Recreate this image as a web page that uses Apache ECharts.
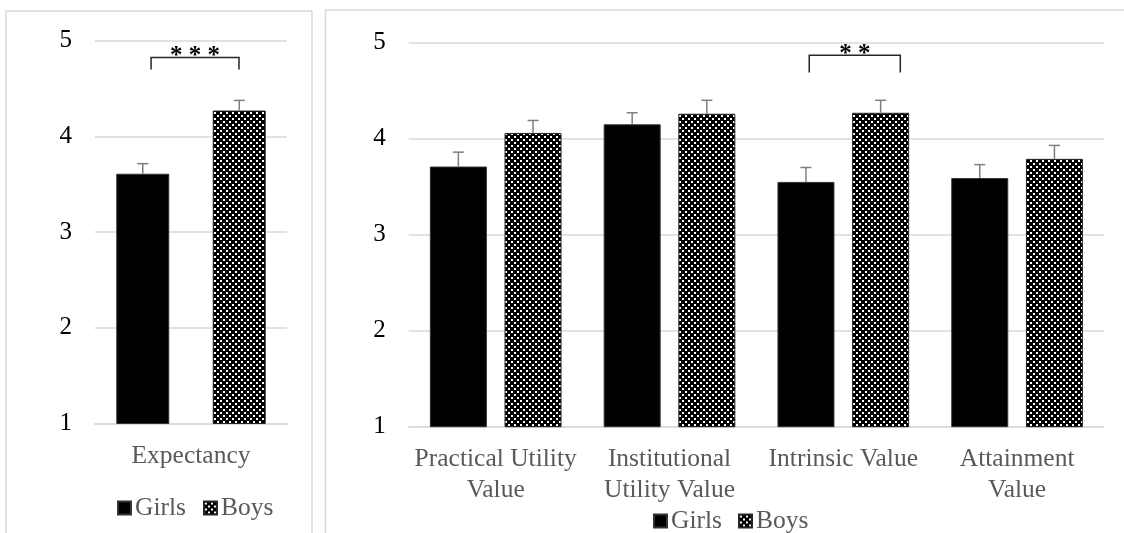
<!DOCTYPE html>
<html>
<head>
<meta charset="utf-8">
<title>Expectancy and task values by gender</title>
<script src="https://cdn.jsdelivr.net/npm/echarts@6/dist/echarts.min.js"></script>
<style>
  html, body { margin: 0; padding: 0; background: #fff; }
  #mainChart { width: 1124px; height: 533px; }
</style>
</head>
<body>
<div id="mainChart"></div>
<script>
// data (means with upper error bar ends)
var expCategories = ['Expectancy'];
var expGirls = [3.61];
var expGirlsUpper = [3.715];
var expBoys = [4.27];
var expBoysUpper = [4.376];

var valueCategories = ['Practical Utility\nValue', 'Institutional\nUtility Value', 'Intrinsic Value', 'Attainment\nValue'];
var valueGirls = [3.71, 4.15, 3.55, 3.59];
var valueGirlsUpper = [3.86, 4.27, 3.70, 3.73];
var valueBoys = [4.06, 4.26, 4.27, 3.79];
var valueBoysUpper = [4.19, 4.40, 4.40, 3.93];

var yMin = 1, yMax = 5, yStep = 1;

// significance brackets: [category index, bracket top, bracket foot]
var expBracket = [[0, 4.825, 4.70]];
var expBracketLabel = ['* * *'];
var valueBracket = [[2, 4.87, 4.69]];
var valueBracketLabel = ['* *'];

var serif = '"Liberation Serif", "Times New Roman", serif';
var gray = '#595959';

// black fill with white dots, like the Excel pattern
function makeDotPattern() {
    var c = document.createElement('canvas');
    c.width = 6;
    c.height = 6;
    var g = c.getContext('2d');
    g.fillStyle = '#000';
    g.fillRect(0, 0, 6, 6);
    g.fillStyle = '#fff';
    g.fillRect(1, 1, 2, 2);
    g.fillRect(4, 4, 2, 2);
    return c;
}
var boysFill = { image: makeDotPattern(), repeat: 'repeat' };

function errorBar(barWidth, gapRatio, side) {
    return function (params, api) {
        var base = api.coord([api.value(0), api.value(1)]);
        var top = api.coord([api.value(0), api.value(2)]);
        var x = base[0] + side * barWidth * (1 + gapRatio) / 2;
        var st = { stroke: '#7f7f7f', lineWidth: 1.5 };
        return {
            type: 'group',
            children: [
                { type: 'line', shape: { x1: x, y1: base[1], x2: x, y2: top[1] }, style: st },
                { type: 'line', shape: { x1: x - 5.5, y1: top[1], x2: x + 5.5, y2: top[1] }, style: st }
            ]
        };
    };
}

function bracket(labels, fromFrac, toFrac) {
    return function (params, api) {
        var c = api.coord([api.value(0), api.value(1)]);
        var foot = api.coord([api.value(0), api.value(2)]);
        var band = api.size([1, 0])[0];
        var x1 = c[0] + fromFrac * band;
        var x2 = c[0] + toFrac * band;
        return {
            type: 'group',
            children: [{
                type: 'polyline',
                shape: { points: [[x1, foot[1]], [x1, c[1]], [x2, c[1]], [x2, foot[1]]] },
                style: { stroke: '#262626', lineWidth: 1.5, fill: 'none' }
            }, {
                type: 'text',
                style: {
                    text: labels[params.dataIndex],
                    x: (x1 + x2) / 2,
                    y: c[1] - 1,
                    align: 'center', verticalAlign: 'middle',
                    textAlign: 'center', textVerticalAlign: 'middle',
                    font: 'bold 25px ' + serif,
                    fill: '#000'
                }
            }]
        };
    };
}

function pairData(vals, upper) {
    return vals.map(function (v, i) { return [i, v, upper[i]]; });
}

var leftBarW = 53, leftGap = 0.82;
var rightBarW = 57, rightGap = 0.31;

function yAxisFor(idx) {
    return {
        gridIndex: idx, type: 'value', min: yMin, max: yMax, interval: yStep,
        axisLine: { show: false }, axisTick: { show: false },
        axisLabel: { color: '#000', fontFamily: serif, fontSize: 25, margin: 23 },
        splitLine: { lineStyle: { color: '#d9d9d9', width: 1.5 } }
    };
}

function xAxisFor(idx, cats) {
    return {
        gridIndex: idx, type: 'category', data: cats,
        axisLine: { lineStyle: { color: '#d9d9d9', width: 1.5 } },
        axisTick: { show: false },
        axisLabel: { color: gray, fontFamily: serif, fontSize: 25.5, lineHeight: 31, margin: 17, interval: 0 }
    };
}

var myChart = echarts.init(document.getElementById('mainChart'));

var option = {
    animation: false,
    backgroundColor: '#fff',
    graphic: [
        { type: 'rect', shape: { x: 6, y: 11, width: 306, height: 600 }, style: { fill: 'none', stroke: '#d9d9d9', lineWidth: 1.5 }, silent: true },
        { type: 'rect', shape: { x: 325.5, y: 10, width: 820, height: 600 }, style: { fill: 'none', stroke: '#d9d9d9', lineWidth: 1.5 }, silent: true }
    ],
    grid: [
        { left: 95, right: 837, top: 40.7, bottom: 109.5 },
        { left: 408.8, right: 20, top: 42.7, bottom: 106.3 }
    ],
    legend: [{
        data: ['Girls', 'Boys'], left: 112, top: 490,
        icon: 'rect', itemWidth: 13, itemHeight: 13, itemGap: 17,
        textStyle: { color: gray, fontFamily: serif, fontSize: 25.5, padding: [0, 0, 0, -1] }
    }, {
        data: ['Girls', 'Boys'], left: 648, top: 503,
        icon: 'rect', itemWidth: 13, itemHeight: 13, itemGap: 16,
        textStyle: { color: gray, fontFamily: serif, fontSize: 25.5, padding: [0, 0, 0, -1] }
    }],
    xAxis: [xAxisFor(0, expCategories), xAxisFor(1, valueCategories)],
    yAxis: [yAxisFor(0), yAxisFor(1)],
    series: [
        {
            name: 'Girls', type: 'bar', xAxisIndex: 0, yAxisIndex: 0,
            data: expGirls, barWidth: leftBarW, barGap: (leftGap * 100) + '%',
            itemStyle: { color: '#000', borderColor: '#333', borderWidth: 1 }
        },
        {
            name: 'Boys', type: 'bar', xAxisIndex: 0, yAxisIndex: 0,
            data: expBoys, barWidth: leftBarW, barGap: (leftGap * 100) + '%',
            itemStyle: { color: boysFill, borderColor: '#262626', borderWidth: 1 }
        },
        {
            name: 'Girls', type: 'bar', xAxisIndex: 1, yAxisIndex: 1,
            data: valueGirls, barWidth: rightBarW, barGap: (rightGap * 100) + '%',
            itemStyle: { color: '#000', borderColor: '#333', borderWidth: 1 }
        },
        {
            name: 'Boys', type: 'bar', xAxisIndex: 1, yAxisIndex: 1,
            data: valueBoys, barWidth: rightBarW, barGap: (rightGap * 100) + '%',
            itemStyle: { color: boysFill, borderColor: '#262626', borderWidth: 1 }
        },
        {
            name: 'errGirlsExp', type: 'custom', xAxisIndex: 0, yAxisIndex: 0, z: 3,
            renderItem: errorBar(leftBarW, leftGap, -1),
            encode: { x: 0, y: [1, 2] }, data: pairData(expGirls, expGirlsUpper)
        },
        {
            name: 'errBoysExp', type: 'custom', xAxisIndex: 0, yAxisIndex: 0, z: 3,
            renderItem: errorBar(leftBarW, leftGap, 1),
            encode: { x: 0, y: [1, 2] }, data: pairData(expBoys, expBoysUpper)
        },
        {
            name: 'errGirlsVal', type: 'custom', xAxisIndex: 1, yAxisIndex: 1, z: 3,
            renderItem: errorBar(rightBarW, rightGap, -1),
            encode: { x: 0, y: [1, 2] }, data: pairData(valueGirls, valueGirlsUpper)
        },
        {
            name: 'errBoysVal', type: 'custom', xAxisIndex: 1, yAxisIndex: 1, z: 3,
            renderItem: errorBar(rightBarW, rightGap, 1),
            encode: { x: 0, y: [1, 2] }, data: pairData(valueBoys, valueBoysUpper)
        },
        {
            name: 'sigExp', type: 'custom', xAxisIndex: 0, yAxisIndex: 0, clip: false,
            renderItem: bracket(expBracketLabel, -0.208, 0.25),
            encode: { x: 0, y: [1, 2] }, data: expBracket
        },
        {
            name: 'sigVal', type: 'custom', xAxisIndex: 1, yAxisIndex: 1, clip: false,
            renderItem: bracket(valueBracketLabel, -0.196, 0.328),
            encode: { x: 0, y: [1, 2] }, data: valueBracket
        }
    ]
};

myChart.setOption(option);
</script>
</body>
</html>
